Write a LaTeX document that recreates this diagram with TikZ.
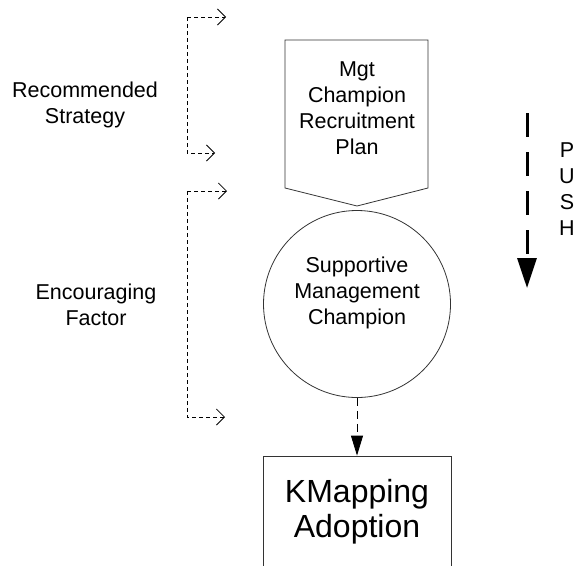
\documentclass[tikz,border=0pt]{standalone}
\usepackage{fontspec}
\setmainfont{Liberation Sans}
\usetikzlibrary{arrows.meta}
\tikzset{
  txt/.style={align=center, inner sep=0pt, font=\fontsize{21.5}{26}\selectfont},
  bracketline/.style={draw=black, line width=0.8pt, dash pattern=on 4pt off 3pt, -{Straight Barb[length=8pt,width=16pt,line width=0.8pt]}},
  outline/.style={draw=black!80, line width=0.8pt},
  flowarrow/.style={draw=black, line width=0.8pt, dash pattern=on 8pt off 5pt, -{Triangle[length=20pt,width=12pt]}},
  pusharrow/.style={draw=black, line width=3pt, dash pattern=on 24pt off 15pt, -{Triangle[length=30pt,width=19pt]}}
}
\begin{document}
\begin{tikzpicture}[x=1pt,y=-1pt]
\useasboundingbox (0,0) rectangle (577,565);
\clip (0,0) rectangle (577,565);
% left labels
\node[txt] (rs) at (85,105) {Recommended\\Strategy};
\node[txt] (ef) at (96,305) {Encouraging\\Factor};
% brackets
\coordinate (b1a) at (226,17);
\coordinate (b1b) at (187,17);
\coordinate (b1c) at (187,153);
\coordinate (b1d) at (215,153);
\draw[bracketline] (b1b) -- (b1a);
\draw[bracketline] (b1b) -- (b1c) -- (b1d);
\coordinate (b2a) at (227,191);
\coordinate (b2b) at (187,191);
\coordinate (b2c) at (187,417);
\coordinate (b2d) at (225,417);
\draw[bracketline] (b2b) -- (b2a);
\draw[bracketline] (b2b) -- (b2c) -- (b2d);
% pentagon
\coordinate (p1) at (285,40);
\coordinate (p2) at (428,40);
\coordinate (p3) at (428,188);
\coordinate (p4) at (357,206);
\coordinate (p5) at (285,188);
\draw[outline] (p1) -- (p2) -- (p3) -- (p4) -- (p5) -- cycle;
\node[txt] (plan) at (357,108) {Mgt\\Champion\\Recruitment\\Plan};
% circle
\node[outline, circle, minimum size=187pt, inner sep=0pt] (champ) at (357,304) {};
\node[txt] (champtxt) at (357,292.5) {Supportive\\Management\\Champion};
% adoption box
\node[outline, rectangle, minimum width=188pt, minimum height=112pt, inner sep=0pt, align=center, font=\fontsize{32}{35}\selectfont] (kmap) at (357,512) {KMapping\\Adoption};
\draw[flowarrow] (champ.south) -- (kmap.north);
% push
\coordinate (pushtop) at (527,113);
\coordinate (pushend) at (527,288);
\draw[pusharrow] (pushtop) -- (pushend);
\node[txt] (push) at (567,189) {P\\U\\S\\H};
\end{tikzpicture}
\end{document}
